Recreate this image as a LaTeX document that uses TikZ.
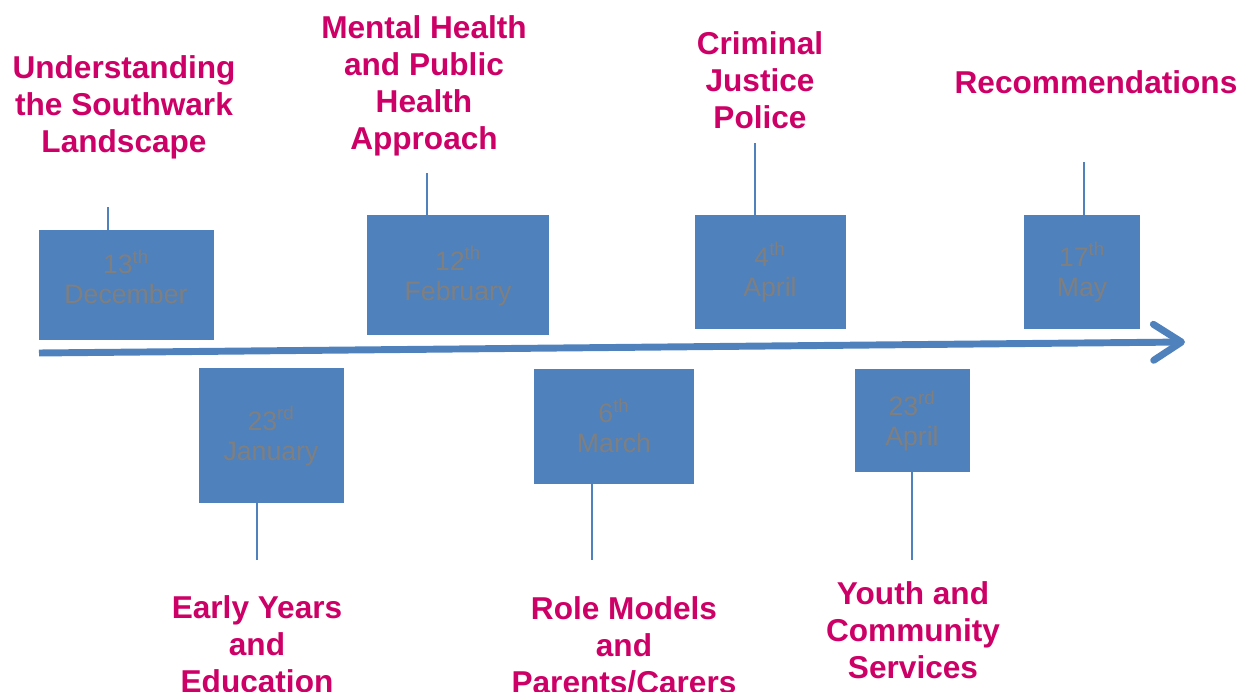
\documentclass[tikz,border=0pt]{standalone}
\usepackage{fontspec}
\setmainfont{Liberation Sans}
\usetikzlibrary{arrows.meta}
\definecolor{boxblue}{RGB}{79,129,189}
\definecolor{pink}{RGB}{204,0,102}
\definecolor{datgray}{RGB}{127,127,127}
\tikzset{
  datebox/.style={fill=boxblue, draw=none, inner sep=0pt},
  datetext/.style={text=datgray, align=center, inner sep=0pt,
    font=\fontsize{20}{22.5}\selectfont},
  topic/.style={text=pink, align=center, inner sep=0pt,
    font=\bfseries\fontsize{23.7}{27.75}\selectfont},
  tick/.style={draw=boxblue, line width=1.5pt},
  timeline/.style={draw=boxblue, line width=5.2pt,
    -{Straight Barb[length=21pt,width=27pt,line cap=round,line join=round]}}
}
\begin{document}
\begin{tikzpicture}[x=0.75pt,y=-0.75pt]
\useasboundingbox (0,0) rectangle (1254,692);

% timeline
\coordinate (tstart) at (39,353);
\coordinate (tend) at (1185,342);
\draw[timeline] (tstart) -- (tend);

% boxes
\node[datebox, minimum width=131.25pt, minimum height=82.5pt] (b1) at (126.5,285) {};
\node[datebox, minimum width=108.75pt, minimum height=101.25pt] (b2) at (271.5,435.5) {};
\node[datebox, minimum width=136.5pt, minimum height=90pt] (b3) at (458,275) {};
\node[datebox, minimum width=120pt, minimum height=86.25pt] (b4) at (614,426.5) {};
\node[datebox, minimum width=113.25pt, minimum height=85.5pt] (b5) at (770.5,272) {};
\node[datebox, minimum width=86.25pt, minimum height=77.25pt] (b6) at (912.5,420.5) {};
\node[datebox, minimum width=87pt, minimum height=85.5pt] (b7) at (1082,272) {};

% date texts
\node[datetext] (d1) at (126,277) {13\textsuperscript{th}\\December};
\node[datetext] (d2) at (271,436) {23\textsuperscript{rd}\\January};
\node[datetext] (d3) at (458,276) {12\textsuperscript{th}\\February};
\node[datetext] (d4) at (614,426) {6\textsuperscript{th}\\March};
\node[datetext] (d5) at (770,272) {4\textsuperscript{th}\\April};
\node[datetext] (d6) at (912,421) {23\textsuperscript{rd}\\April};
\node[datetext] (d7) at (1082,272) {17\textsuperscript{th}\\May};

% ticks
\coordinate (e1) at (108,207);
\coordinate (e2) at (257,560);
\coordinate (e3) at (427,173);
\coordinate (e4) at (592,560);
\coordinate (e5) at (755,143);
\coordinate (e6) at (912,560);
\coordinate (e7) at (1084,162);
\draw[tick] (b1.north -| e1) -- (e1);
\draw[tick] (b2.south -| e2) -- (e2);
\draw[tick] (b3.north -| e3) -- (e3);
\draw[tick] (b4.south -| e4) -- (e4);
\draw[tick] (b5.north -| e5) -- (e5);
\draw[tick] (b6.south -| e6) -- (e6);
\draw[tick] (b7.north -| e7) -- (e7);

% topic labels
\node[topic] (t1) at (124,107) {Understanding\\the Southwark\\Landscape};
\node[topic] (t2) at (257,644) {Early Years\\and\\Education};
\node[topic] (t3) at (424,86) {Mental Health\\and Public\\Health\\Approach};
\node[topic] (t4) at (624,645) {Role Models\\and\\Parents/Carers};
\node[topic] (t5) at (760,80) {Criminal\\Justice\\Police};
\node[topic] (t6) at (913,630) {Youth and\\Community\\Services};
\node[topic] (t7) at (1096,82) {Recommendations};
\end{tikzpicture}
\end{document}
